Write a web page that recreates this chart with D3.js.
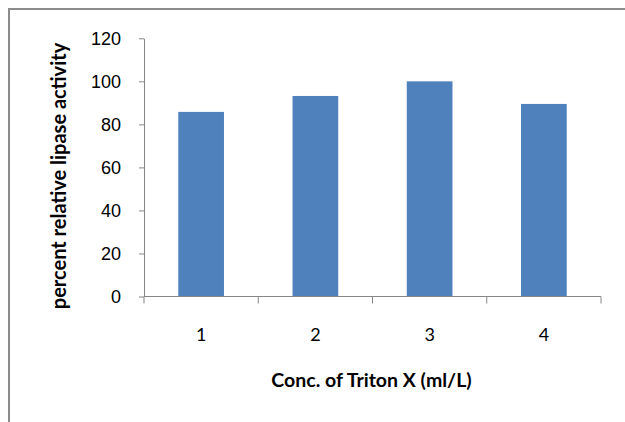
<!DOCTYPE html>
<html>
<head>
<meta charset="utf-8">
<script src="https://cdnjs.cloudflare.com/ajax/libs/d3/7.8.5/d3.min.js"></script>
<style>
  html, body { margin: 0; padding: 0; background: #fff; }
  svg { display: block; font-family: Lato, "Open Sans", sans-serif; }
</style>
</head>
<body>
<svg id="chart" width="625" height="422"></svg>
<script>
// Triton X concentration vs. relative lipase activity
const categories = ["1", "2", "3", "4"];
const activity = [85.8, 93.2, 100, 89.5];
const yTicks = [0, 20, 40, 60, 80, 100, 120];

const svg = d3.select("#chart");
const W = 625, H = 422;
const plot = { left: 144, right: 601, top: 38.3, bottom: 296.5 };
const axisColor = "#868686";
const barColor = "#4F81BD";

// chart frame
svg.append("rect")
  .attr("x", 9).attr("y", 9)
  .attr("width", W + 20).attr("height", H + 20)
  .attr("fill", "none")
  .attr("stroke", "#8c8c8c")
  .attr("stroke-width", 2);

const x = d3.scaleBand()
  .domain(categories)
  .range([plot.left, plot.right])
  .paddingInner(0.6)
  .paddingOuter(0.3);

const y = d3.scaleLinear()
  .domain([0, 120])
  .range([plot.bottom, plot.top]);

// bars
svg.append("g")
  .selectAll("rect")
  .data(activity)
  .join("rect")
  .attr("x", (d, i) => x(categories[i]))
  .attr("y", d => y(d))
  .attr("width", x.bandwidth())
  .attr("height", d => y(0) - y(d))
  .attr("fill", barColor);

// y axis
const yAxis = svg.append("g")
  .attr("transform", `translate(${plot.left},0)`)
  .call(d3.axisLeft(y).tickValues(yTicks).tickSize(5).tickPadding(18).tickSizeOuter(0));
yAxis.select(".domain").attr("stroke", axisColor);
yAxis.selectAll(".tick line").attr("stroke", axisColor);
yAxis.selectAll(".tick text")
  .attr("fill", "#000")
  .style("font-size", "18px");

// x axis: ticks at category boundaries, labels centred in each band
const xAxisG = svg.append("g").attr("transform", `translate(0,${plot.bottom})`);
xAxisG.append("line")
  .attr("x1", plot.left).attr("x2", plot.right)
  .attr("stroke", axisColor);
const edges = [plot.left].concat(
  categories.slice(1).map(c => x(c) - (x.step() - x.bandwidth()) / 2),
  [plot.right]);
xAxisG.selectAll("line.tick")
  .data(edges)
  .join("line")
  .attr("class", "tick")
  .attr("x1", d => d).attr("x2", d => d)
  .attr("y1", 0).attr("y2", 7)
  .attr("stroke", axisColor);
xAxisG.selectAll("text")
  .data(categories)
  .join("text")
  .attr("x", d => x(d) + x.bandwidth() / 2)
  .attr("y", 44.5)
  .attr("text-anchor", "middle")
  .style("font-size", "18px")
  .text(d => d);

// axis titles
svg.append("text")
  .attr("x", 371.5).attr("y", 387)
  .attr("text-anchor", "middle")
  .style("font-size", "19.5px")
  .style("font-weight", "bold")
  .text("Conc. of Triton X (ml/L)");

svg.append("text")
  .attr("transform", "translate(66,176) rotate(-90)")
  .attr("text-anchor", "middle")
  .style("font-size", "20px")
  .style("font-weight", "bold")
  .text("percent relative lipase activity");
</script>
</body>
</html>
